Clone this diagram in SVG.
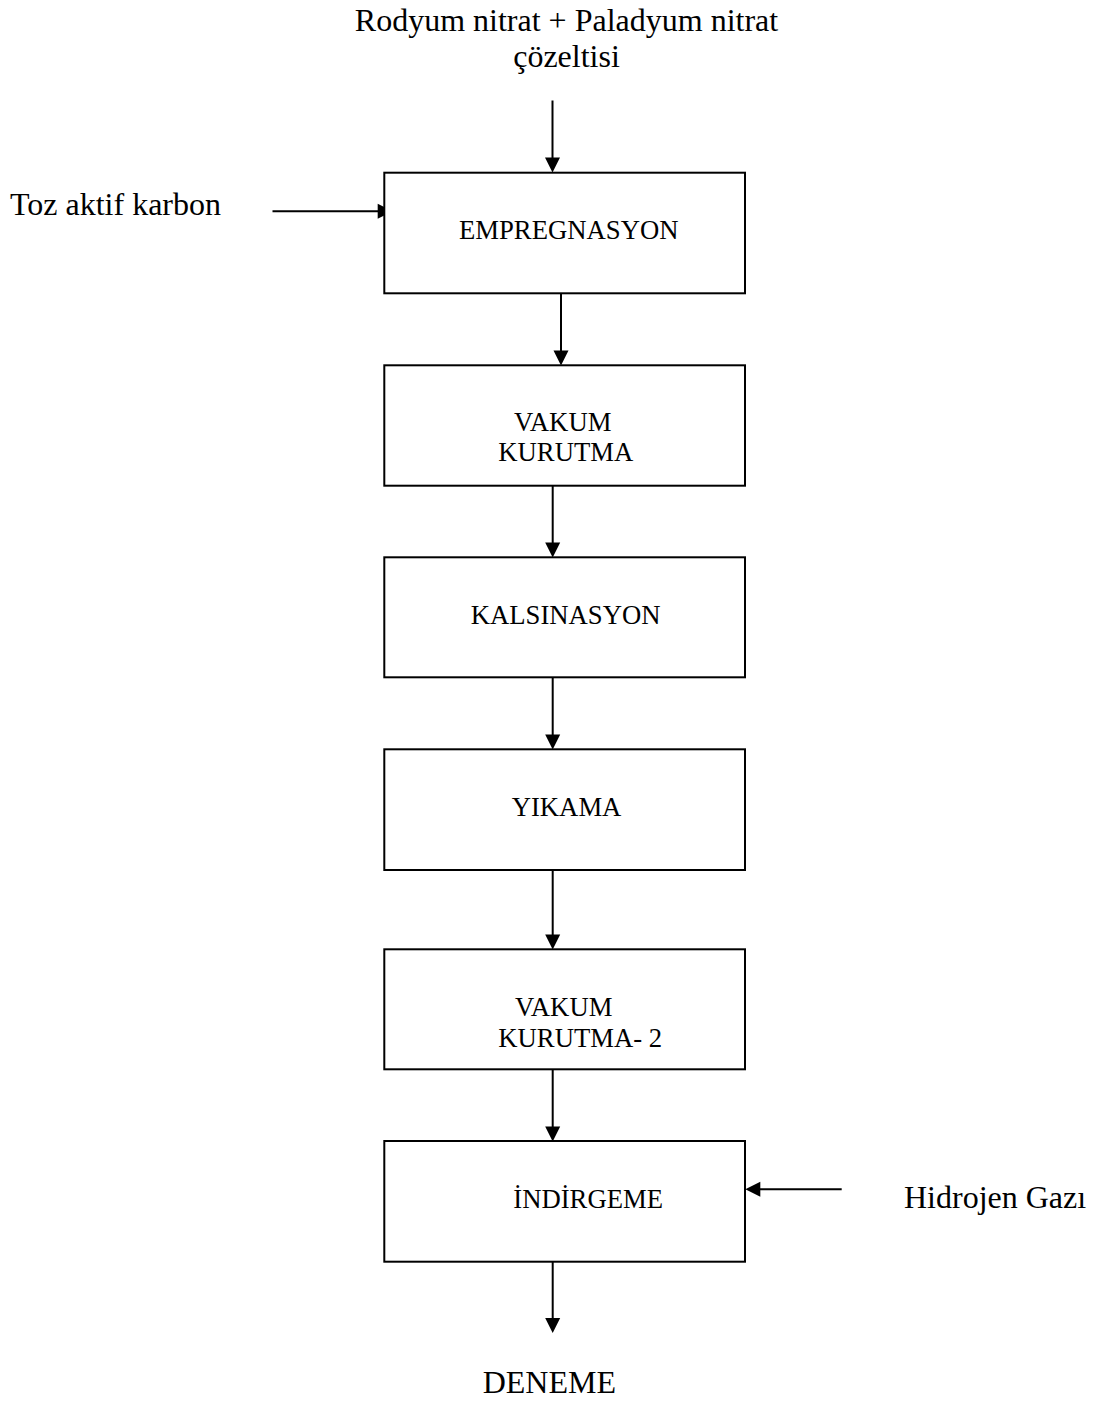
<svg xmlns="http://www.w3.org/2000/svg" width="1097" height="1401" viewBox="0 0 1097 1401">
<style>
.box{fill:#fff;stroke:#000;stroke-width:2}
.t{font-family:"Liberation Serif","Times New Roman",serif;fill:#000}
.bt{font-size:26.7px}
.ot{font-size:32px}
.c{stroke:#000;stroke-width:2;fill:none}
.ah{fill:#000}
</style>
<defs>
<path id="down" class="ah" d="M-7.5,-15 L7.5,-15 L0,0 z"/>
<path id="right" class="ah" d="M-15,-7.5 L-15,7.5 L0,0 z"/>
<path id="left" class="ah" d="M15,-7.5 L15,7.5 L0,0 z"/>
</defs>
<rect width="1097" height="1401" fill="#fff"/>
<g id="connectors">
<line class="c" x1="552.5" y1="100.5" x2="552.5" y2="160"/>
<use href="#down" x="552.5" y="172.5"/>
<line class="c" x1="272.5" y1="211.3" x2="380" y2="211.3"/>
<use href="#right" x="392.7" y="211.3"/>
<line class="c" x1="561" y1="293.5" x2="561" y2="353"/>
<use href="#down" x="561" y="365.5"/>
<line class="c" x1="552.7" y1="486" x2="552.7" y2="545"/>
<use href="#down" x="552.7" y="557.5"/>
<line class="c" x1="552.7" y1="677.5" x2="552.7" y2="737"/>
<use href="#down" x="552.7" y="749.5"/>
<line class="c" x1="552.7" y1="870" x2="552.7" y2="937"/>
<use href="#down" x="552.7" y="949.5"/>
<line class="c" x1="552.7" y1="1069.5" x2="552.7" y2="1129"/>
<use href="#down" x="552.7" y="1141.5"/>
<line class="c" x1="841.7" y1="1189.3" x2="758" y2="1189.3"/>
<use href="#left" x="745.3" y="1189.3"/>
<line class="c" x1="552.7" y1="1262" x2="552.7" y2="1320"/>
<use href="#down" x="552.7" y="1333"/>
</g>
<g id="input-solution">
<text class="t ot" x="566.5" y="31" text-anchor="middle">Rodyum nitrat + Paladyum nitrat</text>
<text class="t ot" x="566.5" y="67" text-anchor="middle">çözeltisi</text>
</g>
<g id="input-carbon">
<text class="t ot" x="10" y="215">Toz aktif karbon</text>
</g>
<g id="empregnasyon">
<rect class="box" x="384.3" y="172.7" width="360.7" height="120.6"/>
<text class="t bt" x="459" y="239">EMPREGNASYON</text>
</g>
<g id="vakum-kurutma">
<rect class="box" x="384.3" y="365.3" width="360.7" height="120.4"/>
<text class="t bt" x="514" y="431">VAKUM</text>
<text class="t bt" x="498.3" y="461">KURUTMA</text>
</g>
<g id="kalsinasyon">
<rect class="box" x="384.3" y="557.3" width="360.7" height="120"/>
<text class="t bt" x="470.7" y="624.3">KALSINASYON</text>
</g>
<g id="yikama">
<rect class="box" x="384.3" y="749.3" width="360.7" height="120.7"/>
<text class="t bt" x="511.7" y="815.7">YIKAMA</text>
</g>
<g id="vakum-kurutma-2">
<rect class="box" x="384.3" y="949.3" width="360.7" height="120"/>
<text class="t bt" x="515" y="1015.7">VAKUM</text>
<text class="t bt" x="498.3" y="1046.7">KURUTMA- 2</text>
</g>
<g id="indirgeme">
<rect class="box" x="384.3" y="1141" width="360.7" height="120.7"/>
<text class="t bt" x="513.3" y="1207.7">İNDİRGEME</text>
</g>
<g id="input-hydrogen">
<text class="t ot" x="904" y="1208">Hidrojen Gazı</text>
</g>
<g id="deneme">
<text class="t ot" x="482.7" y="1393">DENEME</text>
</g>
</svg>
